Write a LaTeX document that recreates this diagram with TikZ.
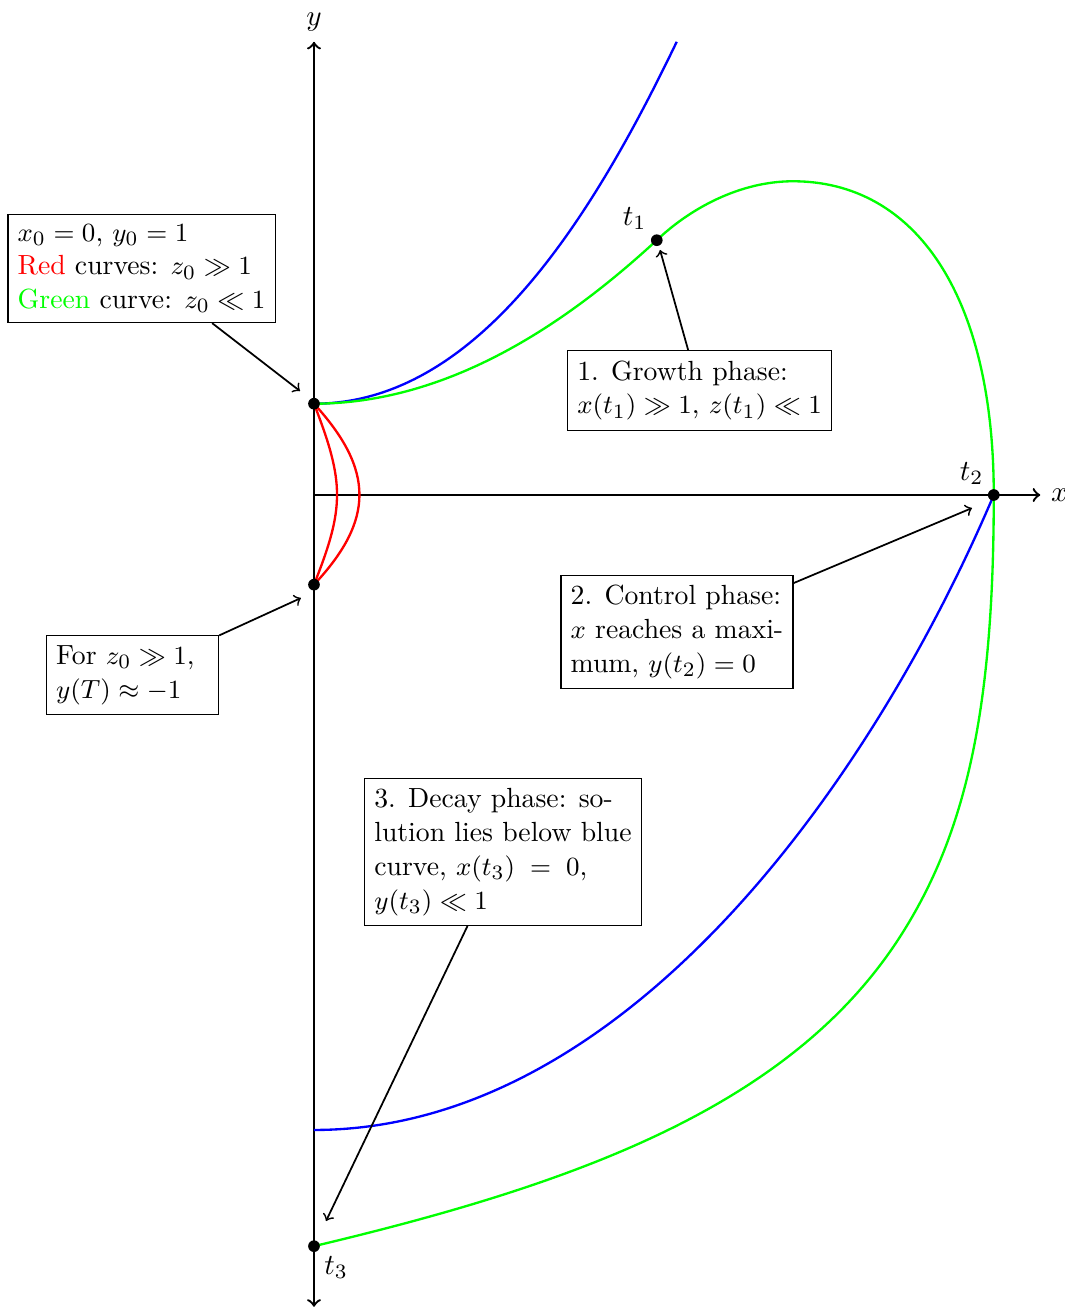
\documentclass[tikz,border=0pt]{standalone}
\tikzset{my box/.style={draw, align=left, fill=white, font=\fontsize{9.5}{11.6}\selectfont},
my curve/.style={thick},
my note/.style={->, semithick},}

\begin{document}
\begin{tikzpicture}
\useasboundingbox (-3.783,-9.795) rectangle (9.048,5.964);
% axes
\draw[->,thick] (0,0) -- (8.75,0) node[right] (xlab) {$x$};
\draw[<->,thick] (0,-9.78) -- (0,5.46) node[above] (ylab) {$y$};
% points
\coordinate (y0) at (0,1.10);
\coordinate (ym) at (0,-1.08);
\coordinate (t1) at (4.13,3.07);
\coordinate (t2) at (8.19,0);
\coordinate (t3) at (0,-9.05);
\coordinate (top) at (5.77,3.78);
\coordinate (low) at (7.10,-5.26);
\coordinate (bb) at (0,-7.65);
\coordinate (bt) at (4.37,5.46);
% curves
\draw[my curve,blue] (y0) .. controls (1.98,1.10) and (3.36,3.36) .. (bt);
\draw[my curve,blue] (bb) .. controls (3.75,-7.65) and (6.72,-3.46) .. (t2);
\draw[my curve,green] (y0) .. controls (1.78,1.10) and (3.26,2.27) .. (t1)
  .. controls (4.54,3.46) and (5.14,3.78) .. (top)
  .. controls (7.25,3.78) and (8.19,2.40) .. (t2)
  .. controls (8.19,-2.47) and (7.89,-4.00) .. (low)
  .. controls (5.79,-7.36) and (3.16,-8.30) .. (t3);
\draw[my curve,red] (y0) .. controls (0.37,0.15) and (0.37,-0.15) .. (ym);
\draw[my curve,red] (y0) .. controls (0.73,0.30) and (0.73,-0.30) .. (ym);
% dots
\foreach \p in {y0,ym,t1,t2,t3}
  \fill (\p) circle (2pt);
\node[above left] (t1lab) at (t1) {$t_1$};
\node[above left] (t2lab) at (t2) {$t_2$};
\node[below right] (t3lab) at (t3) {$t_3$};
% notes
\node[my box] (init) at (-2.078,2.729) {$x_0=0$, $y_0=1$\\
  \textcolor{red}{Red} curves: $z_0\gg1$\\
  \textcolor{green}{Green} curve: $z_0\ll1$};
\node[my box] (grow) at (4.645,1.259) {1. Growth phase:\\ $x(t_1)\gg1$, $z(t_1)\ll1$};
\node[my box] (ctrl) at (4.373,-1.651) {2. Control phase:\\ $x$ reaches a maxi-\\ mum, $y(t_2)=0$};
\node[my box,text width=1.84cm] (large) at (-2.187,-2.169) {For $z_0\gg1$,\\ $y(T)\approx-1$};
\node[my box] (decay) at (2.277,-4.301) {3. Decay phase: so-\\ lution lies below blue\\
  curve, $x(t_3)\;=\;0$,\\ $y(t_3)\ll1$};
\coordinate (a1) at (-0.169,1.253);
\coordinate (a2) at (4.169,2.952);
\coordinate (a3) at (7.928,-0.157);
\coordinate (a4) at (-0.157,-1.241);
\coordinate (a5) at (0.145,-8.747);
\draw[my note] (init) -- (a1);
\draw[my note] (grow) -- (a2);
\draw[my note] (ctrl) -- (a3);
\draw[my note] (large) -- (a4);
\draw[my note] (decay) -- (a5);
\end{tikzpicture}
\end{document}
